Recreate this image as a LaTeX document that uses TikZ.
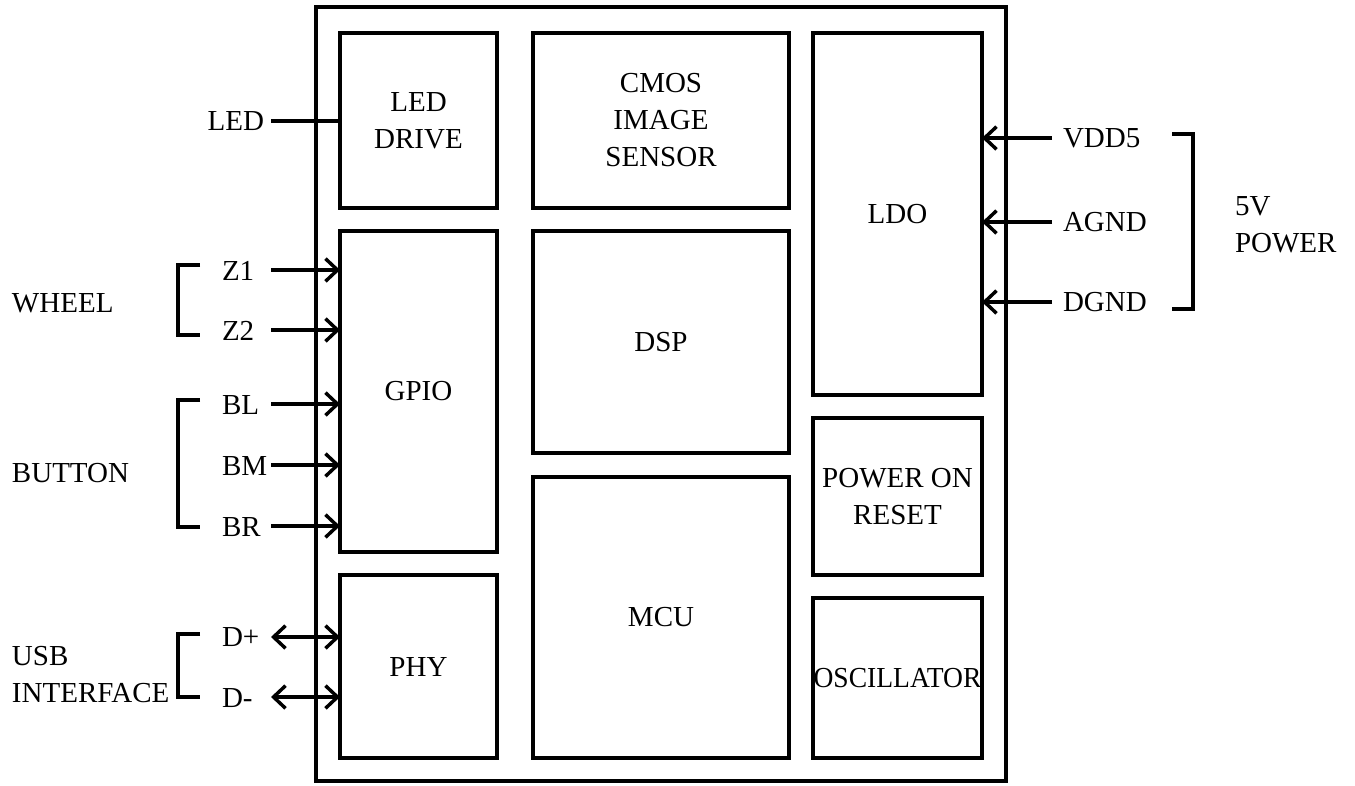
\documentclass[tikz,border=0pt]{standalone}
\usepackage{fontspec}
\setmainfont{Liberation Serif}
\usetikzlibrary{arrows.meta}
\newcommand\blk[6]{\node[blockbox, minimum width={(#4-#2)*0.75pt}, minimum height={(#5-#3)*0.75pt}] (#1) at ({(#2+#4)/2},{(#3+#5)/2}) {#6};}
\tikzset{
  blockbox/.style={draw, line width=2.6pt, inner sep=0pt, outer sep=0pt, align=center},
  lbl/.style={inner sep=0pt, outer sep=0pt, align=left},
  wire/.style={line width=2.6pt},
  arr/.style={wire, -{Straight Barb[length=9pt,width=17pt,line width=2.6pt]}},
  darr/.style={wire, {Straight Barb[length=9pt,width=17pt,line width=2.6pt]}-{Straight Barb[length=9pt,width=17pt,line width=2.6pt]}},
  brk/.style={line width=2.6pt, line cap=butt, line join=miter}
}
\begin{document}
\begin{tikzpicture}[x=0.75pt,y=-0.75pt,font=\fontsize{21.75}{27.75}\selectfont]
\useasboundingbox (0,0) rectangle (1355,785);
% outer chip
\blk{chip}{316}{7}{1006}{781}{}
% blocks
\blk{leddrv}{340}{33}{497}{208}{LED\\DRIVE}
\blk{cmos}{533}{33}{789}{208}{CMOS\\IMAGE\\SENSOR}
\blk{ldo}{813}{33}{982}{395}{LDO}
\blk{gpio}{340}{231}{497}{552}{GPIO}
\blk{dsp}{533}{231}{789}{453}{DSP}
\blk{por}{813}{418}{982}{575}{POWER ON\\RESET}
\blk{phy}{340}{575}{497}{758}{PHY}
\blk{mcu}{533}{477}{789}{758}{MCU}
\blk{osc}{813}{598}{982}{758}{\makebox[0pt][c]{\scalebox{0.95}[1]{OSCILLATOR}}}
% left labels
\node[lbl, anchor=east] (led) at (264,121) {LED};
\node[lbl, anchor=west] (z1) at (222,271) {Z1};
\node[lbl, anchor=west] (z2) at (222,331) {Z2};
\node[lbl, anchor=west] (bl) at (222,405) {BL};
\node[lbl, anchor=west] (bm) at (222,466) {BM};
\node[lbl, anchor=west] (br) at (222,527) {BR};
\node[lbl, anchor=west] (dp) at (222,637) {D+};
\node[lbl, anchor=west] (dm) at (222,698) {D-};
\node[lbl, anchor=west] (wheel) at (12,303) {WHEEL};
\node[lbl, anchor=west] (button) at (12,473) {BUTTON};
\node[lbl, anchor=west] (usb) at (12,675) {USB\\INTERFACE};
% right labels
\node[lbl, anchor=west] (vdd) at (1063,138) {VDD5};
\node[lbl, anchor=west] (agnd) at (1063,222) {AGND};
\node[lbl, anchor=west] (dgnd) at (1063,302) {DGND};
\node[lbl, anchor=west] (pwr) at (1235,225) {5V\\POWER};
% wire start coordinates
\coordinate (cled) at (271,121);
\coordinate (cz1) at (271,270);
\coordinate (cz2) at (271,330);
\coordinate (cbl) at (271,404);
\coordinate (cbm) at (271,465);
\coordinate (cbr) at (271,526);
\coordinate (cdp) at (271,637);
\coordinate (cdm) at (271,697);
\coordinate (cvdd) at (1052,138);
\coordinate (cagnd) at (1052,222);
\coordinate (cdgnd) at (1052,302);
% connectors
\draw[wire] (cled) -- (leddrv.west |- cled);
\draw[arr] (cz1) -- (gpio.west |- cz1);
\draw[arr] (cz2) -- (gpio.west |- cz2);
\draw[arr] (cbl) -- (gpio.west |- cbl);
\draw[arr] (cbm) -- (gpio.west |- cbm);
\draw[arr] (cbr) -- (gpio.west |- cbr);
\draw[darr] (cdp) -- (phy.west |- cdp);
\draw[darr] (cdm) -- (phy.west |- cdm);
\draw[arr] (cvdd) -- (ldo.east |- cvdd);
\draw[arr] (cagnd) -- (ldo.east |- cagnd);
\draw[arr] (cdgnd) -- (ldo.east |- cdgnd);
% brackets
\draw[brk] (200,265) -- (178,265) -- (178,335) -- (200,335);
\draw[brk] (200,400) -- (178,400) -- (178,527) -- (200,527);
\draw[brk] (200,634) -- (178,634) -- (178,697) -- (200,697);
\draw[brk] (1172,134) -- (1193,134) -- (1193,309) -- (1172,309);
\end{tikzpicture}
\end{document}
